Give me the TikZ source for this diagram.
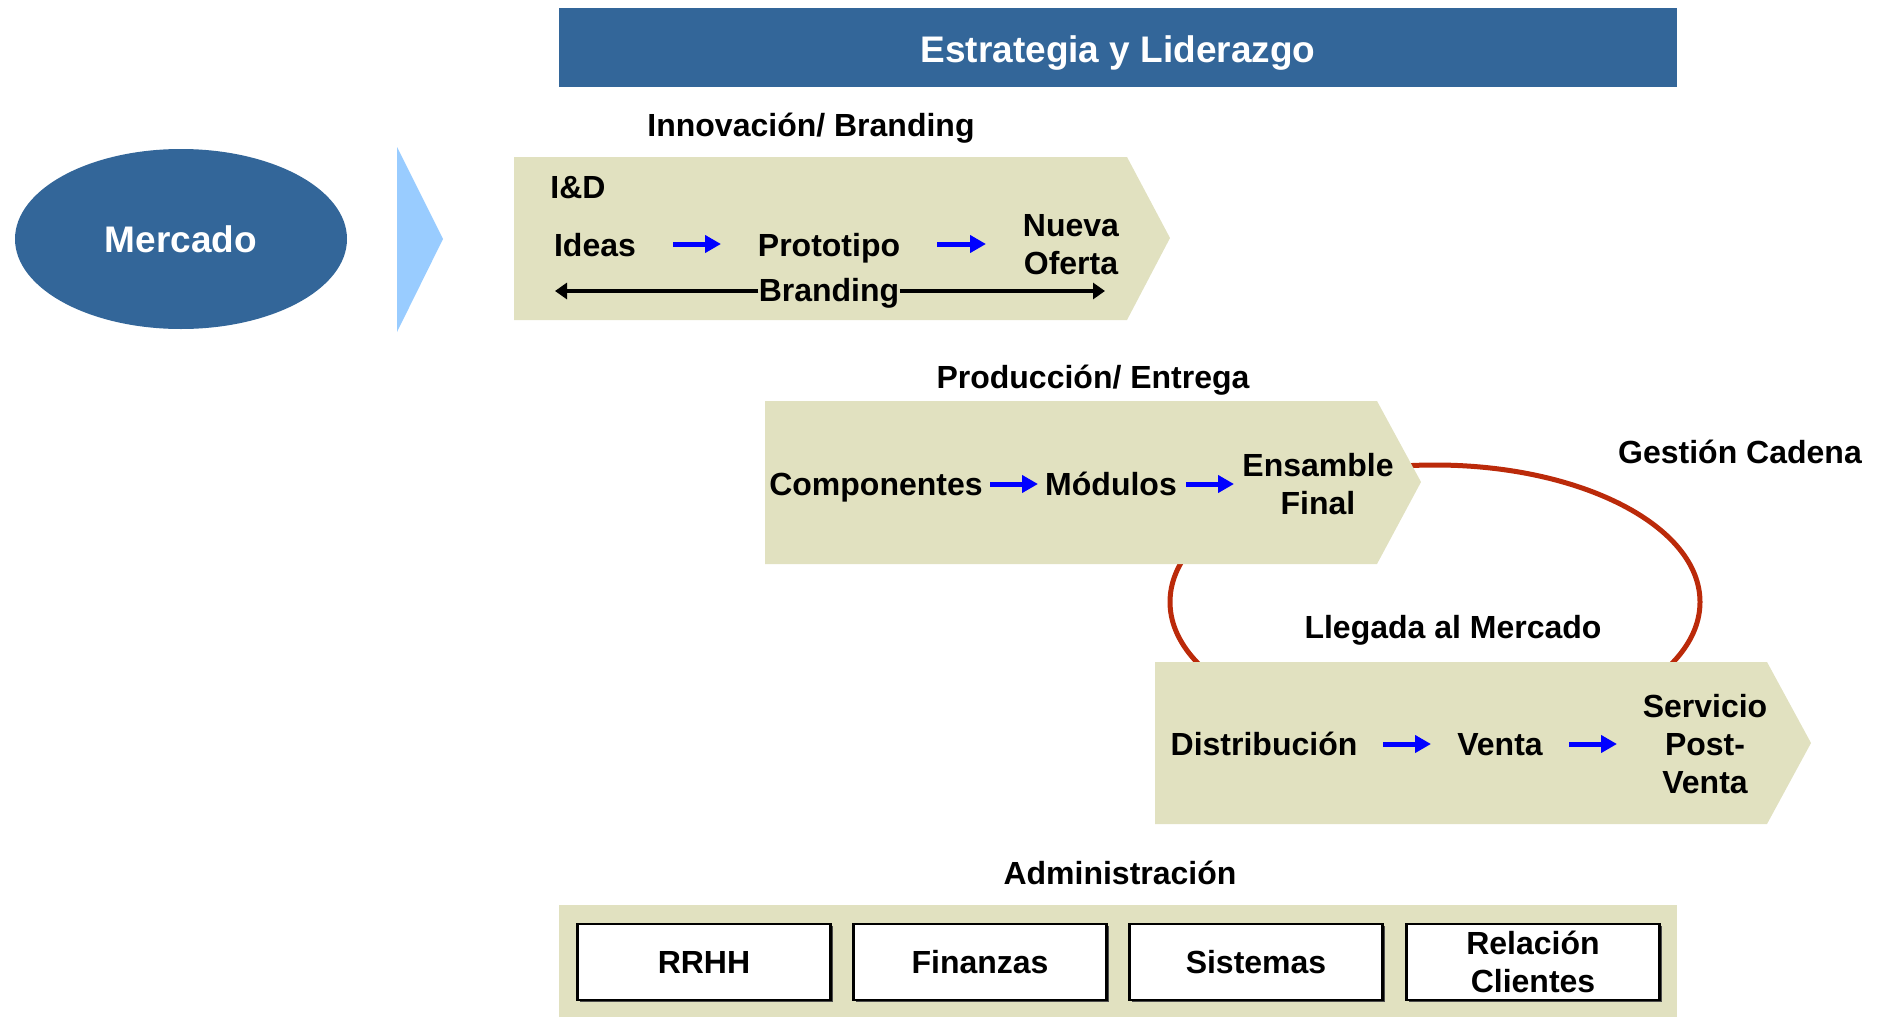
\documentclass[tikz,border=0pt]{standalone}
\usepackage{fontspec}
\setmainfont{Liberation Sans}
\usetikzlibrary{arrows.meta,shapes.geometric,shadows}
\definecolor{dblue}{RGB}{51,102,153}
\definecolor{beige}{RGB}{225,225,192}
\definecolor{lblue}{RGB}{153,204,255}
\definecolor{rust}{RGB}{187,42,10}
\begin{document}
\begin{tikzpicture}[x=0.5pt,y=-0.5pt,
  txt/.style={font=\fontsize{16}{19}\selectfont\bfseries, inner sep=0pt, align=center},
  one/.style={text height=11.6pt, text depth=0pt},
  hd/.style={font=\fontsize{16}{19}\selectfont\bfseries, inner sep=0pt, text height=11.6pt, text depth=0pt},
  wtxt/.style={font=\fontsize{18.5}{22}\selectfont\bfseries, inner sep=0pt, text=white},
  barrow/.style={-{Triangle[length=8pt,width=8.5pt]}, blue, line width=2.5pt},
  karrow/.style={-{Triangle[length=6pt,width=8pt]}, line width=2pt},
  chev/.style={fill=beige},
  adminbox/.style={draw=black, line width=1.1pt, fill=white, minimum width=126.5pt, minimum height=38pt, inner sep=0pt, align=center,
    font=\fontsize{16}{19}\selectfont\bfseries,
    drop shadow={shadow xshift=1pt, shadow yshift=-1pt, fill=black!70, opacity=1}}]
\useasboundingbox (0,0) rectangle (1884,1017);

% red cycle behind the boxes
\draw[rust, line width=2.5pt] (1435,602) ellipse [x radius=132.5pt, y radius=68.5pt];

% title bar
\fill[dblue] (559,8) rectangle (1677,87);
\node[wtxt] (title) at (1118,53) {Estrategia y Liderazgo};

% market
\node[ellipse, fill=dblue, minimum width=166pt, minimum height=90pt, inner sep=0pt] (mercado) at (181,239) {};
\node[wtxt] (mercadotxt) at (181,239) {Mercado};
\fill[lblue] (397,147) -- (443,239) -- (397,332) -- cycle;

% innovation chevron
\node[hd] (innov) at (811,125) {Innovación/ Branding};
\fill[chev] (514,157) -- (1127,157) -- (1170,238) -- (1127,320) -- (514,320) -- cycle;
\node[txt, one, anchor=west] (id) at (550,187) {I\&D};
\node[txt, one] (ideas) at (595,245) {Ideas};
\node[txt, one] (proto) at (829,245) {Prototipo};
\node[txt] (nueva) at (1071,245) {Nueva\\Oferta};
\coordinate (a1s) at (673,244); \coordinate (a1e) at (721,244);
\coordinate (a2s) at (937,244); \coordinate (a2e) at (986,244);
\draw[barrow] (a1s) -- (a1e);
\draw[barrow] (a2s) -- (a2e);
\node[txt, one] (branding) at (829,290) {Branding};
\coordinate (bl) at (555,291); \coordinate (br) at (1105,291);
\draw[karrow] (branding.west) ++(0,1) -- (bl);
\draw[karrow] (branding.east) ++(0,1) -- (br);

% production chevron
\node[hd] (prod) at (1093,377) {Producción/ Entrega};
\fill[chev] (765,401) -- (1377,401) -- (1421,482) -- (1377,564) -- (765,564) -- cycle;
\node[txt, one] (comp) at (876,484) {Componentes};
\node[txt, one] (mod) at (1111,484) {Módulos};
\node[txt] (ens) at (1318,484) {Ensamble\\Final};
\coordinate (a3s) at (990,484); \coordinate (a3e) at (1038,484);
\coordinate (a4s) at (1186,484); \coordinate (a4e) at (1234,484);
\draw[barrow] (a3s) -- (a3e);
\draw[barrow] (a4s) -- (a4e);

\node[hd] (gestion) at (1740,452) {Gestión Cadena};
\node[hd] (llegada) at (1453,627) {Llegada al Mercado};

% market arrival chevron
\fill[chev] (1155,662) -- (1767,662) -- (1811,743) -- (1767,824) -- (1155,824) -- cycle;
\node[txt, one] (dist) at (1264,744) {Distribución};
\node[txt, one] (venta) at (1500,744) {Venta};
\node[txt] (serv) at (1705,744) {Servicio\\Post-\\Venta};
\coordinate (a5s) at (1383,744); \coordinate (a5e) at (1431,744);
\coordinate (a6s) at (1569,744); \coordinate (a6e) at (1617,744);
\draw[barrow] (a5s) -- (a5e);
\draw[barrow] (a6s) -- (a6e);

% administration
\node[hd] (admin) at (1120,873) {Administración};
\fill[beige] (559,905) rectangle (1677,1017);
\node[adminbox] (rrhh) at (704,962) {RRHH};
\node[adminbox] (fin) at (980,962) {Finanzas};
\node[adminbox] (sis) at (1256,962) {Sistemas};
\node[adminbox] (rel) at (1533,962) {Relación\\Clientes};
\end{tikzpicture}
\end{document}
